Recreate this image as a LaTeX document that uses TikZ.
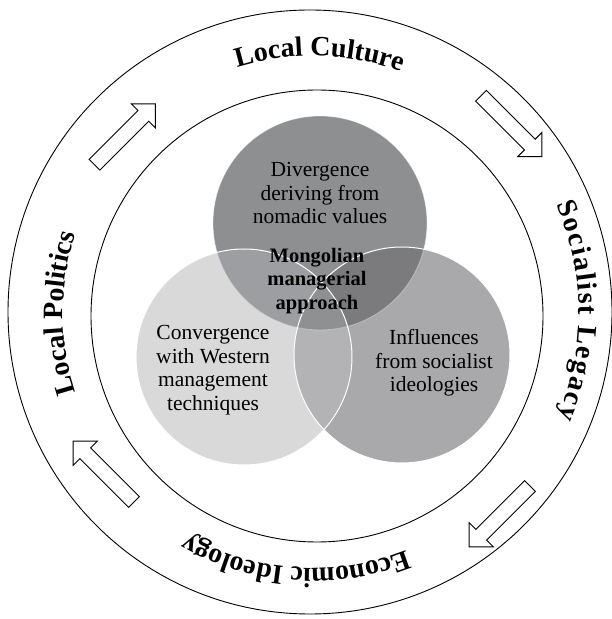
\documentclass[tikz,border=0pt]{standalone}
\usepackage{fontspec}
\setmainfont{Liberation Serif}
\usetikzlibrary{decorations.text}

\definecolor{venntop}{HTML}{8E8F91}
\definecolor{vennleft}{HTML}{D9D9DA}
\definecolor{vennright}{HTML}{A9A9AB}
\definecolor{venntl}{HTML}{9D9EA1}
\definecolor{venntr}{HTML}{7B7B7D}
\definecolor{vennlr}{HTML}{B3B3B5}
\definecolor{venncore}{HTML}{8F9092}

\newcommand{\ringfont}{\fontsize{28}{30}\selectfont\bfseries}
\newcommand{\vennfont}{\fontsize{21.5}{23.5}\selectfont}
\newcommand{\corefont}{\fontsize{20.5}{23.5}\selectfont\bfseries}

\tikzset{
	ring/.style={draw=black, line width=0.9pt},
	venntext/.style={align=center, font=\vennfont, inner sep=0pt},
	coretext/.style={align=center, font=\corefont, inner sep=0pt},
	blockarrow/.pic={
		\draw[line width=0.9pt, fill=white] (0,-7.6) -- (69,-7.6) -- (69,-17) -- (86,0) -- (69,17) -- (69,7.6) -- (0,7.6) -- cycle;
	},
	ringlabel/.style={decorate, decoration={text along path, text={|\ringfont|#1}, text align=center}},
}

\begin{document}
\begin{tikzpicture}[x=1pt,y=1pt]
		\useasboundingbox (0,0) rectangle (612,619);

		%Rings
		\draw[ring] (310,307) circle (302);
		\draw[ring] (317,303) circle (226);

		%Ring labels
		\path[ringlabel=Local Culture] (313,306) ++(148.5:257) arc[start angle=148.5, end angle=28.5, radius=257];
		\path[ringlabel=Local Politics] (313,306) ++(240:250) arc[start angle=240, end angle=120, radius=250];
		\path[decorate, decoration={text along path, text={|\ringfont|Socialist Legacy}, text align=fit to path}] (313,306) ++(24:266) arc[start angle=24, end angle=-23, radius=266];
		\path[ringlabel=Economic Ideology] (313,306) ++(-34:255) arc[start angle=-34, end angle=-154, radius=255];

		%Arrows
		\pic[rotate=45] at (94.5,454.3) {blockarrow};
		\pic[rotate=-45] at (481,523.2) {blockarrow};
		\pic[rotate=-135] at (530,133) {blockarrow};
		\pic[rotate=135] at (134,117) {blockarrow};

		%Venn
		\coordinate (ctop) at (320,396);
		\coordinate (cleft) at (244,262);
		\coordinate (cright) at (402,264);

		\fill[vennleft] (cleft) circle (108);
		\fill[vennright] (cright) circle (108);
		\fill[venntop] (ctop) circle (107);
		\begin{scope}
			\clip (cleft) circle (108);
			\fill[vennlr] (cright) circle (108);
		\end{scope}
		\begin{scope}
			\clip (ctop) circle (107);
			\fill[venntl] (cleft) circle (108);
		\end{scope}
		\begin{scope}
			\clip (ctop) circle (107);
			\fill[venntr] (cright) circle (108);
		\end{scope}
		\begin{scope}
			\clip (ctop) circle (107);
			\clip (cleft) circle (108);
			\fill[venncore] (cright) circle (108);
		\end{scope}
		\draw[white, line width=1pt] (cleft) circle (108);
		\draw[white, line width=1pt] (cright) circle (108);
		\draw[white, opacity=0.4, line width=0.8pt] (ctop) circle (107);

		\node[venntext] (divergence) at (320,426) {Divergence\\ deriving from\\ nomadic values};
		\node[coretext] (mongolian) at (317,338) {Mongolian\\ managerial\\ approach};
		\node[venntext] (convergence) at (213,249) {Convergence\\ with Western\\ management\\ techniques};
		\node[venntext] (influences) at (434,256) {Influences\\ from socialist\\ ideologies};

	\end{tikzpicture}
\end{document}
